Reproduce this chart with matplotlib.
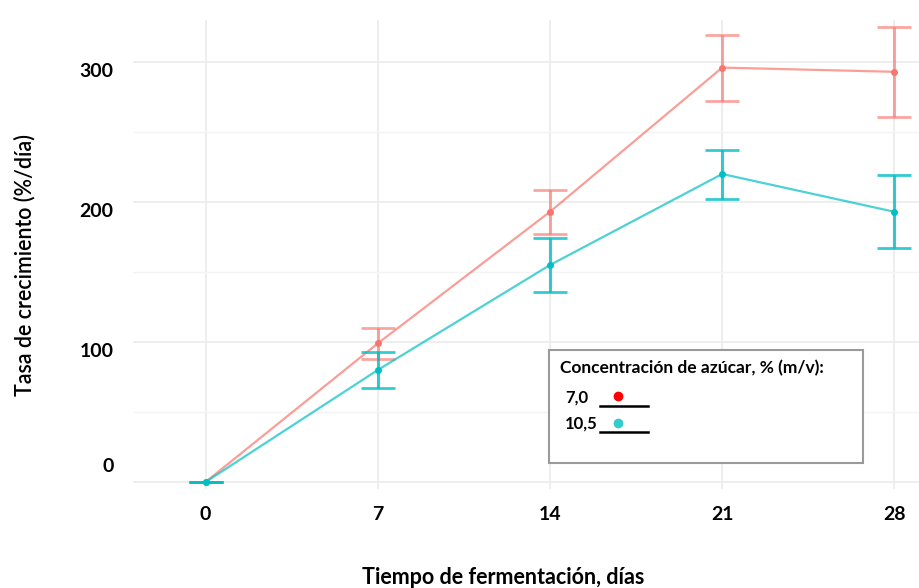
import matplotlib

matplotlib.use("Agg")
import matplotlib.pyplot as plt
from matplotlib.patches import Rectangle
from matplotlib.lines import Line2D
from matplotlib.transforms import ScaledTranslation

plt.rcParams["font.family"] = ["Lato", "DejaVu Sans"]

days = [0, 7, 14, 21, 28]
rate_70 = [0, 99, 193, 296, 293]
err_70 = [0, 11, 15.5, 23.5, 32]
rate_105 = [0, 80, 155, 220, 193]
err_105 = [0, 13, 19.5, 17.5, 26]
legend_labels = ["7,0", "10,5"]

RED = "#F8766D"
TEAL = "#00BFC4"

fig = plt.figure(figsize=(9.19, 5.88), dpi=100)
ax = fig.add_axes([133 / 919, 1 - 489 / 588, 786 / 919, 469 / 588])

for y, e, c, a in [(rate_70, err_70, RED, 0.65), (rate_105, err_105, TEAL, 0.8)]:
    ax.plot(days, y, color=c, lw=1.6, alpha=0.7, zorder=3)
    ax.errorbar(days, y, yerr=e, fmt="none", ecolor=c, elinewidth=2.2,
                capsize=12, capthick=2.0, alpha=a, zorder=3)
    ax.plot(days, y, "o", color=c, ms=4, zorder=4)

ax.set_xlim(-2.95, 29)
ax.set_ylim(-5, 330)
ax.set_xticks(days)
ax.set_yticks([0, 100, 200, 300])
ax.set_yticks([50, 150, 250], minor=True)
ax.grid(True, which="major", color="#EBEBEB", lw=1.2)
ax.grid(True, which="minor", axis="y", color="#F4F4F4", lw=1.0)
ax.set_axisbelow(True)
for s in ax.spines.values():
    s.set_visible(False)
ax.tick_params(axis="both", which="both", length=0, labelsize=14)
ax.tick_params(axis="x", pad=12)
ax.tick_params(axis="y", pad=14)
for lab in ax.get_xticklabels() + ax.get_yticklabels():
    lab.set_fontweight("bold")
# y tick labels sit a bit below their gridlines, "0" sits above
for lab, dy in zip(ax.get_yticklabels(), [17, -8, -8, -8]):
    lab.set_transform(lab.get_transform() + ScaledTranslation(0, dy / 100, fig.dpi_scale_trans))

fig.text(503 / 919, 1 - 577 / 588, "Tiempo de fermentación, días", ha="center", va="center",
         fontsize=15.5, fontweight="bold")
fig.text(25 / 919, 1 - 265 / 588, "Tasa de crecimiento (%/día)", ha="center", va="center",
         rotation=90, fontsize=15.5, fontweight="semibold")

# hand-made legend box
ax.add_patch(Rectangle((0.529, 0.055), 0.400, 0.241, transform=ax.transAxes,
                       facecolor="white", edgecolor="#9A9A9A", lw=1.5, zorder=5))
ax.text(0.543, 0.258, "Concentración de azúcar, % (m/v):", transform=ax.transAxes,
        fontsize=12.5, fontweight="bold", va="center", ha="left", zorder=6)
for lab, ypos, c in [(legend_labels[0], 0.196, "#FF0000"), (legend_labels[1], 0.139, "#33CCCC")]:
    ax.text(0.550, ypos, lab, transform=ax.transAxes, fontsize=12, fontweight="bold",
            va="center", ha="left", zorder=6)
    ax.plot([0.617], [ypos + 0.002], "o", color=c, ms=6, transform=ax.transAxes, zorder=6)
    ax.add_line(Line2D([0.594, 0.655], [ypos - 0.018, ypos - 0.018], color="black", lw=1.8,
                       transform=ax.transAxes, zorder=6))

fig.savefig("out.png", dpi=100)
